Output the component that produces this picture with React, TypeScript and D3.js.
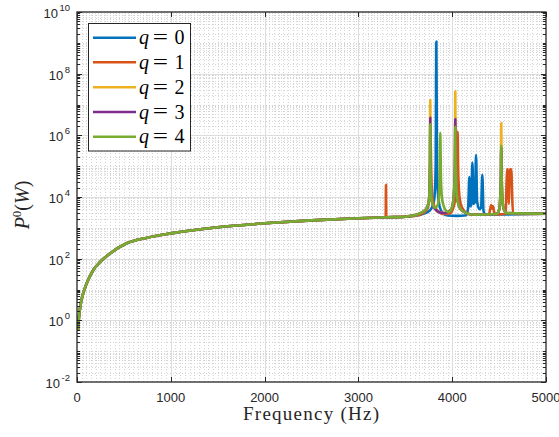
import React from 'react';
import * as d3 from 'd3';

// ---------- data ----------
const xTickValues = [0, 1000, 2000, 3000, 4000, 5000];
const yTickExponents = [-2, 0, 2, 4, 6, 8, 10];
const seriesLabels = ['0', '1', '2', '3', '4'];
const seriesColors = ['#0072BD', '#D95319', '#EDB120', '#7E2F8E', '#77AC30'];

// shared smooth background curve (Hz, W)
const baseFreq = [10, 20, 40, 67, 100, 174, 250, 352, 530, 750, 1000, 1500, 2000, 2500, 3000, 3300, 3500, 4200, 4500, 5000];
const basePow = [0.45, 1.2, 3.5, 7.6, 15, 43, 80, 148, 316, 480, 660, 1050, 1400, 1750, 2050, 2200, 2300, 2600, 2700, 2850];

// resonance regions per series (Hz, W)
const peaksQ0: [number, number][] = [
  [3600, 2450], [3700, 2900], [3760, 3600], [3800, 6000], [3815, 1.5e4], [3824, 1e5], [3831, 1.1e9],
  [3838, 1e5], [3847, 1.5e4], [3865, 5000], [3900, 3000], [3950, 2500], [4050, 2450], [4150, 2550],
  [4170, 4500], [4183, 4.4e4], [4193, 5000], [4205, 6000], [4215, 1.3e5], [4228, 6000], [4243, 7000],
  [4254, 2.3e5], [4266, 7000], [4290, 4000], [4308, 4500], [4321, 5.2e4], [4334, 3500], [4360, 2650],
];
const peaksQ1: [number, number][] = [
  [3280, 2200], [3291, 2300], [3294, 2.5e4], [3297, 2300], [3310, 2210],
  [3600, 2450], [3700, 3100], [3740, 4500], [3758, 1.2e4], [3765, 1e5], [3770, 6e5], [3775, 1e5],
  [3785, 1.2e4], [3810, 5000], [3850, 3500], [3900, 2800],
  [3980, 3000], [4020, 5500], [4040, 1.5e4], [4052, 1e5], [4058, 1.3e6], [4063, 1e5], [4073, 1.5e4],
  [4090, 6000], [4130, 3500], [4200, 2700],
  [4390, 2700], [4405, 4000], [4415, 5500], [4425, 4200], [4435, 5000], [4445, 3500], [4460, 2700],
  [4560, 2800], [4572, 4000], [4580, 3e4], [4586, 8e4], [4593, 7e4], [4599, 3e4], [4604, 6000],
  [4609, 3e4], [4617, 7.5e4], [4624, 8e4], [4632, 6e4], [4640, 9000], [4652, 3000], [4680, 2800],
];
const peaksQ2: [number, number][] = [
  [3550, 2400], [3650, 2900], [3700, 3500], [3730, 4500], [3750, 7000], [3758, 1.5e4], [3763, 1e5],
  [3766, 1.4e7], [3769, 1e5], [3775, 1.5e4], [3790, 6000], [3820, 4000], [3860, 3200], [3920, 3000],
  [3990, 4000], [4010, 7000], [4022, 2e4], [4029, 1.2e5], [4033, 2.7e7], [4037, 1.2e5], [4045, 2e4],
  [4060, 7000], [4090, 4000], [4150, 3000], [4250, 2650],
  [4470, 2800], [4500, 3800], [4512, 9000], [4519, 5e4], [4523, 2.5e6], [4527, 5e4], [4535, 9000],
  [4550, 4000], [4580, 3000],
];
const peaksQ3: [number, number][] = [
  [3550, 2400], [3650, 2900], [3700, 3500], [3730, 4500], [3750, 7000], [3758, 1.5e4], [3763, 1e5],
  [3766, 3.7e6], [3769, 1e5], [3775, 1.5e4], [3790, 6000], [3820, 4000], [3860, 3200], [3920, 3000],
  [3990, 4000], [4010, 7000], [4022, 2e4], [4029, 1.2e5], [4033, 3.4e6], [4037, 1.2e5], [4045, 2e4],
  [4060, 7000], [4090, 4000], [4150, 3000], [4250, 2650],
  [4470, 2800], [4500, 3800], [4512, 9000], [4519, 5e4], [4523, 4e5], [4527, 5e4], [4535, 9000],
  [4550, 4000], [4580, 3000],
];
const peaksQ4: [number, number][] = [
  [3550, 2400], [3650, 2900], [3700, 3500], [3730, 4500], [3750, 7000], [3758, 1.5e4], [3763, 1e5],
  [3766, 2.3e6], [3769, 1e5], [3775, 1.5e4], [3790, 6000], [3820, 4500], [3845, 5500], [3858, 1e4],
  [3866, 4e4], [3873, 1.2e6], [3880, 4e4], [3890, 1e4], [3910, 5000], [3940, 3500], [3970, 3300],
  [3990, 4000], [4010, 7000], [4022, 2e4], [4029, 1.2e5], [4033, 1.9e6], [4037, 1.2e5], [4045, 2e4],
  [4060, 7000], [4090, 4000], [4150, 3000], [4250, 2650],
  [4470, 2800], [4500, 3800], [4512, 9000], [4519, 5e4], [4523, 4.6e5], [4527, 5e4], [4535, 9000],
  [4550, 4000], [4580, 3000],
];
const seriesPeaks = [peaksQ0, peaksQ1, peaksQ2, peaksQ3, peaksQ4];

// ---------- layout ----------
const W = 559, H = 437;
const L = 77, R = 546, T = 12, B = 382;
const axisColor = '#262626';
const tickFont = '"Liberation Sans", Arial, Helvetica, sans-serif';
const serif = '"Liberation Serif", "DejaVu Serif", "Times New Roman", serif';

function buildSeries(peaks: [number, number][]): [number, number][] {
  const lo = peaks[0][0], hi = peaks[peaks.length - 1][0];
  const base: [number, number][] = baseFreq
    .map((f, i) => [f, basePow[i]] as [number, number])
    .filter(d => d[0] < lo || d[0] > hi);
  return base.concat(peaks).sort((a, b) => a[0] - b[0]);
}

export default function App() {
  const x = d3.scaleLinear().domain([0, 5000]).range([L, R]);
  const y = d3.scaleLog().domain([1e-2, 1e10]).range([B, T]);
  const line = d3.line<[number, number]>().x(d => x(d[0])).y(d => y(d[1])).curve(d3.curveMonotoneX);

  const px = (v: number) => Math.round(v) + 0.5;

  const xMinor = d3.range(50, 5000, 50).filter(v => v % 1000 !== 0);
  const xMajor = xTickValues.filter(v => v > 0 && v < 5000);
  const yMinor: number[] = [];
  for (let k = -2; k < 10; k++) {
    for (let m = 1; m <= 9; m++) {
      const v = m * Math.pow(10, k);
      if (m === 1 && k % 2 === 0) continue;
      yMinor.push(v);
    }
  }
  const yMajor = yTickExponents.map(e => Math.pow(10, e));

  const legendYs = [37.7, 62.3, 87.3, 112, 136.7];
  const serifStyle = { fontFamily: serif };

  return (
    <svg width={W} height={H} viewBox={`0 0 ${W} ${H}`} style={{ position: 'absolute', left: 0, top: 0, background: '#fff' }}>
      <defs>
        <clipPath id="plotClip">
          <rect x={L} y={T} width={R - L} height={B - T} />
        </clipPath>
      </defs>
      <rect x={0} y={0} width={W} height={H} fill="#fff" />
      {/* minor grid */}
      <g stroke="#cccccc" strokeWidth={0.8} strokeDasharray="1 2" fill="none">
        {xMinor.map(v => (
          <line key={'xm' + v} x1={px(x(v))} x2={px(x(v))} y1={T} y2={B} />
        ))}
        {yMinor.map(v => (
          <line key={'ym' + v} x1={L} x2={R} y1={px(y(v))} y2={px(y(v))} />
        ))}
      </g>
      {/* major grid */}
      <g stroke="#dddddd" strokeWidth={1} fill="none">
        {xMajor.map(v => (
          <line key={'xg' + v} x1={px(x(v))} x2={px(x(v))} y1={T} y2={B} />
        ))}
        {yMajor.slice(1, -1).map(v => (
          <line key={'yg' + v} x1={L} x2={R} y1={px(y(v))} y2={px(y(v))} />
        ))}
      </g>
      {/* data */}
      <g clipPath="url(#plotClip)" fill="none" strokeWidth={2.6} strokeLinejoin="round" strokeLinecap="butt">
        {seriesPeaks.map((p, i) => (
          <path key={'s' + i} d={line(buildSeries(p)) || ''} stroke={seriesColors[i]} />
        ))}
      </g>
      {/* ticks */}
      <g stroke={axisColor} strokeWidth={1}>
        {xTickValues.map(v => (
          <g key={'xt' + v}>
            <line x1={px(x(v))} x2={px(x(v))} y1={B} y2={B - 5} />
            <line x1={px(x(v))} x2={px(x(v))} y1={T} y2={T + 5} />
          </g>
        ))}
        {yMajor.map(v => (
          <g key={'yt' + v}>
            <line x1={L} x2={L + 5} y1={px(y(v))} y2={px(y(v))} />
            <line x1={R} x2={R - 5} y1={px(y(v))} y2={px(y(v))} />
          </g>
        ))}
        {yMinor.map(v => (
          <g key={'ytm' + v}>
            <line x1={L} x2={L + 3} y1={px(y(v))} y2={px(y(v))} />
            <line x1={R} x2={R - 3} y1={px(y(v))} y2={px(y(v))} />
          </g>
        ))}
      </g>
      {/* box */}
      <rect x={L} y={T} width={R - L} height={B - T} fill="none" stroke={axisColor} strokeWidth={1.3} />
      {/* x tick labels */}
      <g style={{ fontFamily: tickFont }} fontSize={13} fill={axisColor} textAnchor="middle">
        {xTickValues.map(v => (
          <text key={'xl' + v} x={x(v)} y={401.5}>{v}</text>
        ))}
      </g>
      {/* y tick labels */}
      <g style={{ fontFamily: tickFont }} fill={axisColor} textAnchor="end">
        {yTickExponents.map(e => (
          <text key={'yl' + e} x={70} y={y(Math.pow(10, e)) + 6} fontSize={13}>
            <tspan>10</tspan>
            <tspan dx={1.5} dy={-7} fontSize={9.5}>{e}</tspan>
          </text>
        ))}
      </g>
      {/* axis labels */}
      <text x={311} y={420} textAnchor="middle" style={serifStyle} fontSize={19} fill={axisColor} textLength={136} lengthAdjust="spacing">
        Frequency (Hz)
      </text>
      <text transform="translate(29,205) rotate(-90)" textAnchor="middle" style={serifStyle} fontSize={20} fill={axisColor}>
        <tspan fontStyle="italic">P</tspan>
        <tspan fontSize={13} dy={-8}>0</tspan>
        <tspan dy={8}>(</tspan>
        <tspan fontStyle="italic">W</tspan>
        <tspan>)</tspan>
      </text>
      {/* legend */}
      <rect x={88.5} y={23.5} width={102} height={127.5} fill="#fff" stroke={axisColor} strokeWidth={1} />
      {seriesLabels.map((lab, i) => (
        <g key={'lg' + i} style={serifStyle} fontSize={20} fill="#000">
          <line x1={93} x2={136} y1={legendYs[i]} y2={legendYs[i]} stroke={seriesColors[i]} strokeWidth={2.6} />
          <text x={139} y={legendYs[i] + 6.5} fontStyle="italic">q</text>
          <text x={160.5} y={legendYs[i] + 6.5} textAnchor="middle" transform={`translate(${160.5},0) scale(1.35,1) translate(${-160.5},0)`}>=</text>
          <text x={179.5} y={legendYs[i] + 6.5} textAnchor="middle">{lab}</text>
        </g>
      ))}
    </svg>
  );
}
